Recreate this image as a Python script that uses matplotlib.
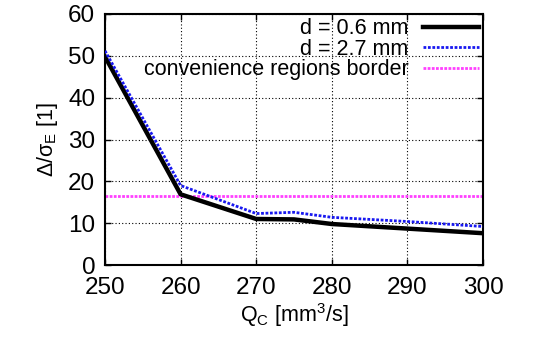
import matplotlib
matplotlib.use("Agg")
import matplotlib.pyplot as plt

plt.rcParams["font.family"] = ["Liberation Sans", "DejaVu Sans"]
plt.rcParams["mathtext.fontset"] = "custom"
plt.rcParams["mathtext.rm"] = "Liberation Sans"
plt.rcParams["mathtext.it"] = "Liberation Sans"
plt.rcParams["mathtext.sf"] = "Liberation Sans"

q_c = [250, 260, 270, 275, 280, 290, 300]
ratio_06 = [49.8, 16.9, 11.0, 10.9, 9.8, 8.7, 7.6]
ratio_27 = [51.2, 19.0, 12.3, 12.6, 11.4, 10.4, 9.2]
border = 16.6

fig = plt.figure(figsize=(5.37, 3.38), dpi=100)
ax = fig.add_axes([105 / 537, 1 - 265 / 338, (483 - 105) / 537, (265 - 14) / 338])

ax.plot(q_c, ratio_06, color="black", lw=3.2, label="d = 0.6 mm", zorder=3)
ax.plot(q_c, ratio_27, color="#1818f0", lw=2.0, ls=(0, (1, 0.6)),
        label="d = 2.7 mm", zorder=4)
ax.axhline(border, color="#ff40ff", lw=2.0, ls=(0, (1, 0.5)),
           label="convenience regions border", zorder=2)

ax.set_xlim(250, 300)
ax.set_ylim(0, 60)
ax.set_xticks(range(250, 301, 10))
ax.set_yticks(range(0, 61, 10))
ax.grid(True, color="black", ls=(0, (1, 2)), lw=0.8)
ax.tick_params(labelsize=17.5, direction="in", length=4, width=1, pad=7,
               top=True, right=True)
ax.tick_params(axis="x", pad=9)
for s in ax.spines.values():
    s.set_linewidth(1.5)

ax.set_xlabel(r"Q$_\mathrm{C}$ [mm$^3$/s]", fontsize=15.5, labelpad=1)
ax.set_ylabel(r"$\Delta/\sigma_\mathrm{E}$ [1]", fontsize=15.5, labelpad=6)

leg = ax.legend(loc="upper right", frameon=False, markerfirst=False,
                fontsize=15.5, handlelength=2.6, handletextpad=0.65,
                labelspacing=-0.02, borderaxespad=0.2, borderpad=0.0)

fig.savefig("out.png", dpi=100)
